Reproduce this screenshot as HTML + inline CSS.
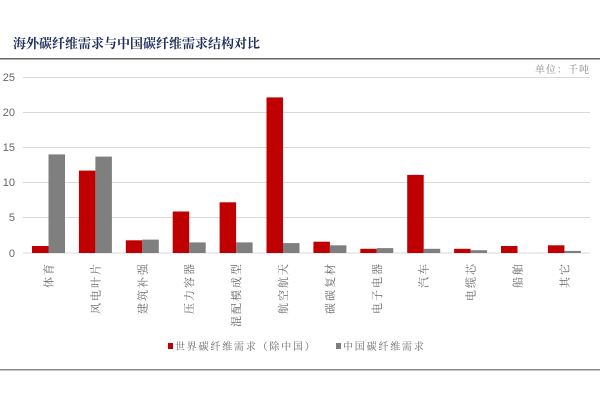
<!DOCTYPE html><html><head><meta charset="utf-8"><style>body{margin:0;background:#fff}svg text{font-family:"Liberation Sans","Noto Serif CJK SC",serif}</style></head><body>
<svg width="600" height="400" xmlns="http://www.w3.org/2000/svg">
<text x="13" y="48" font-size="13" font-weight="bold" fill="#1f2d5a">海外碳纤维需求与中国碳纤维需求结构对比</text>
<rect x="0" y="58" width="600" height="1.5" fill="#666"/>
<text x="590" y="73" font-size="10" fill="#888" text-anchor="end" letter-spacing="1">单位：千吨</text>
<g stroke="#d9d9d9" stroke-width="1">
<line x1="23" y1="77.5" x2="590" y2="77.5"/><line x1="23" y1="112.5" x2="590" y2="112.5"/><line x1="23" y1="147.5" x2="590" y2="147.5"/><line x1="23" y1="182.5" x2="590" y2="182.5"/><line x1="23" y1="217.5" x2="590" y2="217.5"/><line x1="23" y1="253" x2="590" y2="253"/></g>
<g font-size="11" fill="#666" text-anchor="end"><text x="15" y="81">25</text><text x="15" y="116">20</text><text x="15" y="151">15</text><text x="15" y="186">10</text><text x="15" y="221">5</text><text x="15" y="257">0</text></g>
<g fill="#c00000">
<rect x="32" y="246" width="16.5" height="7"/>
<rect x="78.9" y="170.6" width="16.5" height="82.4"/>
<rect x="125.8" y="240.3" width="16.5" height="12.7"/>
<rect x="172.7" y="211.5" width="16.5" height="41.5"/>
<rect x="219.6" y="202.3" width="16.5" height="50.7"/>
<rect x="266.5" y="97.4" width="16.5" height="155.6"/>
<rect x="313.4" y="241.7" width="16.5" height="11.3"/>
<rect x="360.3" y="248.8" width="16.5" height="4.2"/>
<rect x="407.2" y="174.9" width="16.5" height="78.1"/>
<rect x="454.1" y="248.8" width="16.5" height="4.2"/>
<rect x="501" y="246" width="16.5" height="7"/>
<rect x="547.9" y="245.3" width="16.5" height="7.7"/>
</g>
<g fill="#7f7f7f">
<rect x="48.5" y="154.4" width="16.5" height="98.6"/>
<rect x="95.4" y="156.6" width="16.5" height="96.4"/>
<rect x="142.3" y="239.6" width="16.5" height="13.4"/>
<rect x="189.2" y="242.4" width="16.5" height="10.6"/>
<rect x="236.1" y="242.4" width="16.5" height="10.6"/>
<rect x="283" y="243.1" width="16.5" height="9.9"/>
<rect x="329.9" y="245.3" width="16.5" height="7.7"/>
<rect x="376.8" y="248.1" width="16.5" height="4.9"/>
<rect x="423.7" y="248.8" width="16.5" height="4.2"/>
<rect x="470.6" y="250.2" width="16.5" height="2.8"/>
<rect x="564.4" y="250.9" width="16.5" height="2.1"/>
</g>
<g font-size="11" fill="#666" text-anchor="end" letter-spacing="2">
<text transform="translate(52.5,262) rotate(-90)">体育</text>
<text transform="translate(99.4,262) rotate(-90)">风电叶片</text>
<text transform="translate(146.3,262) rotate(-90)">建筑补强</text>
<text transform="translate(193.2,262) rotate(-90)">压力容器</text>
<text transform="translate(240.1,262) rotate(-90)">混配模成型</text>
<text transform="translate(287,262) rotate(-90)">航空航天</text>
<text transform="translate(333.9,262) rotate(-90)">碳碳复材</text>
<text transform="translate(380.8,262) rotate(-90)">电子电器</text>
<text transform="translate(427.7,262) rotate(-90)">汽车</text>
<text transform="translate(474.6,262) rotate(-90)">电缆芯</text>
<text transform="translate(521.5,262) rotate(-90)">船舶</text>
<text transform="translate(568.4,262) rotate(-90)">其它</text>
</g>
<rect x="168" y="343" width="5" height="6" fill="#c00000"/>
<text x="175" y="350" font-size="10" fill="#666" letter-spacing="1.8">世界碳纤维需求（除中国）</text>
<rect x="336" y="343" width="5" height="6" fill="#7f7f7f"/>
<text x="343" y="350" font-size="10" fill="#666" letter-spacing="1.8">中国碳纤维需求</text>
<rect x="0" y="369" width="600" height="1.5" fill="#888"/>
</svg></body></html>
